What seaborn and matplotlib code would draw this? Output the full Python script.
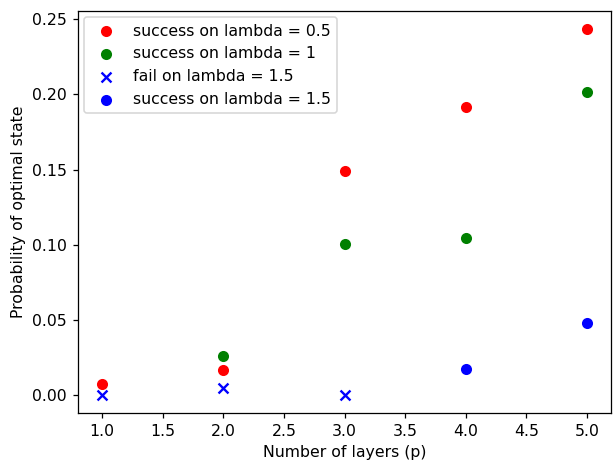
import matplotlib
matplotlib.use("Agg")
import matplotlib.pyplot as plt
import seaborn as sns

layers_r = [1, 2, 3, 4, 5]
succ_05 = [0.0073, 0.0166, 0.149, 0.1915, 0.2434]
layers_g = [2, 3, 4, 5]
succ_1 = [0.0259, 0.1004, 0.1044, 0.2015]
layers_fail = [1, 2, 3]
fail_15 = [0.0, 0.0047, 0.0]
layers_b = [4, 5]
succ_15 = [0.0173, 0.0479]

DPI = 113
fig, ax = plt.subplots(figsize=(613 / DPI, 460 / DPI), dpi=DPI)
sns.scatterplot(x=layers_r, y=succ_05, color="r", s=50, linewidth=0,
                label="success on lambda = 0.5", ax=ax)
sns.scatterplot(x=layers_g, y=succ_1, color="g", s=50, linewidth=0,
                label="success on lambda = 1", ax=ax)
sns.scatterplot(x=layers_fail, y=fail_15, color="b", marker="x", s=40,
                linewidth=1.5, label="fail on lambda = 1.5", ax=ax)
sns.scatterplot(x=layers_b, y=succ_15, color="b", s=50, linewidth=0,
                label="success on lambda = 1.5", ax=ax)

ax.set_xlabel("Number of layers (p)")
ax.set_ylabel("Probability of optimal state")
ax.legend(loc="upper left", borderaxespad=0.4, handletextpad=0.7)
fig.subplots_adjust(left=0.127, right=0.997, top=0.976, bottom=0.102)
fig.savefig("out.png", dpi=DPI)
